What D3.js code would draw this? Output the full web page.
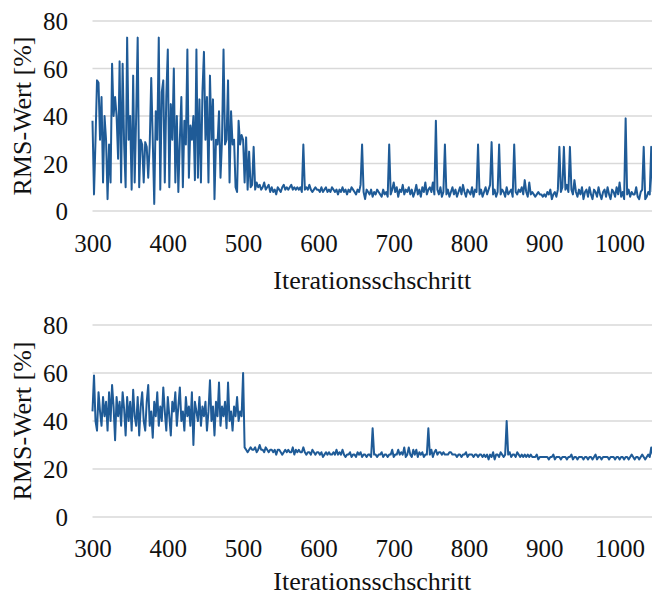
<!DOCTYPE html>
<html>
<head>
<meta charset="utf-8">
<script src="https://cdn.jsdelivr.net/npm/d3@7"></script>
<style>
  html, body { margin: 0; padding: 0; background: #fff; }
  svg text { font-family: "Liberation Serif", "Times New Roman", serif; fill: #111; }
</style>
</head>
<body>
<svg id="chart" width="652" height="596"></svg>
<script>
// ---- DATA (iteration 300 .. 1044, step 2) ----
const iterStart = 300;
const iterStep = 2;
const xTicks = [300, 400, 500, 600, 700, 800, 900, 1000];
const yTicks = [0, 20, 40, 60, 80];
const yTitle = "RMS-Wert [%]";
const xTitle = "Iterationsschschritt";

const rmsTop = [
  38, 7, 30, 55, 54, 30, 48, 12, 40, 30,
  5, 28, 12, 62, 40, 48, 40, 22, 63, 12,
  62, 28, 10, 73, 30, 40, 9, 57, 12, 40,
  73, 10, 30, 28, 12, 29, 27, 14, 28, 56,
  30, 3, 42, 30, 73, 9, 50, 55, 12, 48,
  68, 10, 45, 30, 60, 12, 40, 8, 30, 48,
  10, 38, 28, 68, 14, 36, 30, 40, 13, 68,
  14, 47, 12, 50, 67, 30, 48, 12, 57, 30,
  47, 5, 30, 28, 42, 14, 30, 68, 28, 30,
  55, 12, 42, 28, 30, 10, 8, 38, 28, 32,
  30, 12, 31, 9, 25, 10, 11, 27, 9, 12,
  10, 11, 9, 10, 12, 9, 10, 11, 8, 10,
  8, 9, 7, 10, 9, 8, 10, 11, 9, 10,
  9, 10, 11, 9, 10, 9, 10, 9, 10, 8,
  28, 9, 10, 9, 11, 9, 8, 9, 10, 9,
  9, 8, 10, 8, 9, 10, 8, 9, 8, 10,
  9, 8, 9, 7, 9, 8, 10, 8, 9, 7,
  9, 8, 10, 9, 8, 7, 9, 8, 11, 28,
  8, 5, 9, 8, 7, 9, 6, 8, 7, 9,
  8, 7, 6, 9, 7, 8, 6, 28, 7, 9,
  12, 8, 10, 6, 9, 8, 11, 7, 9, 8,
  10, 7, 9, 6, 8, 11, 7, 9, 6, 10,
  8, 12, 7, 9, 10, 8, 12, 7, 38, 9,
  7, 10, 6, 8, 28, 7, 9, 6, 8, 10,
  7, 9, 6, 8, 10, 7, 11, 8, 6, 9,
  8, 7, 10, 6, 9, 8, 28, 7, 9, 6,
  8, 10, 7, 9, 11, 29, 7, 9, 6, 8,
  28, 7, 9, 8, 6, 10, 7, 8, 9, 6,
  28, 8, 7, 9, 8, 10, 7, 13, 8, 6,
  12, 7, 8, 7, 6, 7, 8, 7, 7, 6,
  7, 6, 8, 7, 9, 5, 7, 8, 6, 9,
  27, 8, 10, 27, 9, 11, 8, 27, 9, 7,
  13, 8, 6, 9, 7, 10, 5, 8, 9, 6,
  10, 7, 5, 9, 8, 6, 10, 7, 5, 8,
  9, 6, 10, 7, 5, 9, 8, 6, 10, 7,
  12, 6, 8, 5, 39, 7, 9, 6, 8, 7,
  7, 10, 6, 5, 8, 9, 27, 5, 6, 8,
  7, 27, 8
];

const rmsBottom = [
  44, 59, 40, 36, 52, 44, 38, 50, 42, 48,
  36, 52, 40, 55, 46, 32, 50, 42, 48, 38,
  52, 45, 34, 50, 40, 48, 36, 53, 42, 38,
  50, 34, 46, 52, 40, 36, 48, 55, 38, 44,
  33, 48, 42, 52, 38, 46, 40, 54, 44, 36,
  50, 42, 34, 48, 44, 52, 38, 46, 54, 40,
  44, 36, 50, 42, 46, 38, 52, 30, 48, 44,
  40, 50, 38, 46, 42, 48, 36, 44, 57, 40,
  46, 34, 48, 42, 56, 38, 46, 42, 48, 37,
  56, 40, 44, 36, 46, 42, 50, 40, 44, 42,
  60, 29, 28, 27, 28, 29, 28, 28, 29, 27,
  28, 30, 28, 28, 27, 29, 28, 27, 28, 28,
  27, 28, 26, 28, 28, 27, 26, 27, 28, 27,
  28, 27, 27, 29, 26, 28, 27, 28, 27, 27,
  29, 27, 26, 27, 27, 26, 28, 27, 26, 27,
  27, 26, 27, 25, 26, 27, 26, 27, 26, 26,
  27, 26, 28, 26, 27, 26, 28, 26, 25, 26,
  26, 27, 25, 26, 26, 25, 27, 26, 27, 25,
  26, 26, 25, 26, 26, 25, 37, 26, 26, 25,
  26, 26, 27, 25, 26, 26, 25, 26, 26, 28,
  25, 26, 26, 28, 26, 27, 26, 29, 25, 26,
  29, 26, 25, 28, 26, 28, 25, 27, 26, 27,
  25, 26, 26, 37, 26, 28, 25, 27, 28, 26,
  27, 27, 26, 27, 26, 26, 26, 27, 27, 26,
  26, 26, 25, 26, 26, 25, 26, 26, 27, 25,
  26, 26, 26, 25, 26, 26, 25, 26, 26, 25,
  26, 25, 26, 24, 26, 25, 27, 24, 26, 26,
  25, 27, 26, 25, 26, 40, 26, 27, 25, 26,
  26, 25, 27, 26, 25, 26, 25, 26, 25, 26,
  25, 26, 25, 25, 25, 26, 24, 25, 25, 25,
  25, 25, 25, 24, 25, 25, 26, 24, 25, 25,
  25, 24, 25, 25, 25, 24, 25, 25, 26, 24,
  25, 25, 24, 25, 25, 25, 24, 25, 25, 24,
  25, 25, 24, 25, 26, 24, 25, 25, 24, 25,
  25, 25, 25, 24, 25, 25, 25, 24, 25, 25,
  24, 25, 25, 24, 25, 25, 24, 25, 26, 25,
  24, 25, 25, 24, 25, 26, 25, 24, 25, 26,
  25, 29, 26
];

// ---- DRAWING ----
const svg = d3.select("#chart");
const lineColor = "#1f5b97";
const gridColor = "#d9d9d9";
const serif = "'Liberation Serif', 'Times New Roman', serif";

const x = d3.scaleLinear().domain([300, 1043]).range([92.5, 652]);

function panel(values, yTop, yBottom, tickBaselineY, titleBaselineY) {
  const y = d3.scaleLinear().domain([0, 80]).range([yBottom, yTop]);
  const g = svg.append("g");

  // gridlines
  g.selectAll("line.grid").data(yTicks).enter().append("line")
    .attr("class", "grid")
    .attr("x1", x.range()[0]).attr("x2", x.range()[1])
    .attr("y1", d => y(d)).attr("y2", d => y(d))
    .attr("stroke", gridColor).attr("stroke-width", 1.5);

  // y tick labels
  const yAxis = d3.axisLeft(y).tickValues(yTicks).tickFormat(d3.format("d")).tickSize(0).tickPadding(0);
  const ya = g.append("g").attr("transform", "translate(68,0)").call(yAxis)
    .attr("font-family", serif).attr("font-size", 25);
  ya.select(".domain").remove();
  ya.selectAll("text").attr("fill", "#111").attr("dy", "0.34em");

  // x tick labels
  const xAxis = d3.axisBottom(x).tickValues(xTicks).tickFormat(d3.format("d")).tickSize(0).tickPadding(0);
  const xa = g.append("g").attr("transform", `translate(0,${tickBaselineY})`).call(xAxis)
    .attr("font-family", serif).attr("font-size", 25);
  xa.select(".domain").remove();
  xa.selectAll("text").attr("fill", "#111").attr("dy", 0).attr("y", 0);

  // line
  const data = values.map((v, i) => ({ it: iterStart + i * iterStep, v }));
  const line = d3.line().x(d => x(d.it)).y(d => y(d.v));
  g.append("path").datum(data)
    .attr("d", line)
    .attr("fill", "none")
    .attr("stroke", lineColor)
    .attr("stroke-width", 2)
    .attr("stroke-linejoin", "round");

  // titles
  g.append("text")
    .attr("transform", `translate(31,${(yTop + yBottom) / 2}) rotate(-90)`)
    .attr("text-anchor", "middle")
    .attr("font-family", serif)
    .attr("font-size", 26)
    .text(yTitle);
  g.append("text")
    .attr("x", (x.range()[0] + x.range()[1]) / 2)
    .attr("y", titleBaselineY)
    .attr("text-anchor", "middle")
    .attr("font-family", serif)
    .attr("font-size", 26)
    .text(xTitle);
}

panel(rmsTop, 21, 211, 252, 289);
panel(rmsBottom, 325, 517, 557, 590);
</script>
</body>
</html>
